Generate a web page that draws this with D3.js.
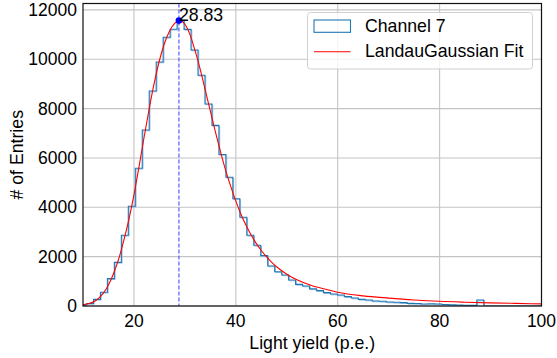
<!DOCTYPE html>
<html>
    <head>
        <meta charset="utf-8">
        <title>Channel 7 light yield</title>
        <script src="https://d3js.org/d3.v7.min.js"></script>
        <style>
            body { margin: 0; background: white; }
            text { font-family: "Liberation Sans", Arial, Helvetica, sans-serif; fill: black; }
        </style>
    </head>
    <body>
        <div id="main"></div>
        <script>
            // histogram: first bin left edge, bin width, counts per bin
            var binStart = 9.319
            var binWidth = 1.368
            var counts = [30, 100, 270, 555, 1108, 1770, 2865, 4040, 5580, 7133,
                8714, 9890, 10890, 11216, 11560, 11213, 10376, 9350, 8189, 7320,
                6140, 5217, 4345, 3596, 2866, 2460, 2040, 1622, 1391, 1257,
                1054, 875, 811, 695, 622, 541, 486, 446, 378, 324,
                270, 243, 203, 190, 162, 150, 135, 108, 100, 81,
                90, 80, 60, 45, 35, 27, 25, 243]

            // LandauGaussian fit
            var fitX = [10, 11, 12, 13, 14, 15, 16, 17, 18, 19, 20, 21, 22, 23, 24, 25, 26, 27, 28, 28.83,
                29.5, 30, 31, 32, 33, 34, 35, 36, 37, 38, 39, 40, 41, 42, 43, 44, 45, 46, 47, 48,
                50, 52, 55, 58, 60, 65, 70, 75, 80, 85, 90, 95, 100]
            var fitY = [55, 90, 160, 300, 520, 850, 1320, 1900, 2650, 3500, 4500, 5650, 6850, 8000, 9050, 9950, 10650, 11150, 11450, 11566,
                11520, 11420, 11000, 10350, 9600, 8750, 7900, 7050, 6250, 5500, 4850, 4250, 3720, 3270, 2880, 2540, 2250, 2000, 1780, 1590,
                1290, 1060, 820, 660, 560, 410, 320, 245, 190, 155, 128, 105, 85]

            var peakX = 28.83
            var peakY = 11566

            var xTicks = [20, 40, 60, 80, 100]
            var yTicks = [0, 2000, 4000, 6000, 8000, 10000, 12000]

            var legendLabels = ["Channel 7", "LandauGaussian Fit"]

            var W = 557, H = 358
            var margin = {top: 3.5, right: 15.5, bottom: 52, left: 83}
            var width = W - margin.left - margin.right
            var height = H - margin.top - margin.bottom

            var svg = d3.select("#main")
            .append("svg")
                .attr("width", W)
                .attr("height", H)
            .append("g")
                .attr("transform", "translate(" + margin.left + "," + margin.top + ")")

            var x = d3.scaleLinear().domain([10, 100]).range([0, width])
            var y = d3.scaleLinear().domain([0, 12260]).range([height, 0])

            svg.append("defs").append("clipPath").attr("id", "clip")
                .append("rect").attr("width", width).attr("height", height)

            // grid
            svg.append("g")
                .selectAll("line")
                .data(xTicks)
                .enter()
                .append("line")
                .attr("x1", d => x(d)).attr("x2", d => x(d))
                .attr("y1", 0).attr("y2", height)
                .attr("stroke", "#c4c4c4").attr("stroke-width", 1.1)
            svg.append("g")
                .selectAll("line")
                .data(yTicks)
                .enter()
                .append("line")
                .attr("x1", 0).attr("x2", width)
                .attr("y1", d => y(d)).attr("y2", d => y(d))
                .attr("stroke", "#c4c4c4").attr("stroke-width", 1.1)

            var plot = svg.append("g").attr("clip-path", "url(#clip)")

            // step histogram outline
            var steps = [[binStart, 0]]
            counts.forEach(function(c, i) {
                steps.push([binStart + i * binWidth, c])
                steps.push([binStart + (i + 1) * binWidth, c])
            })
            steps.push([binStart + counts.length * binWidth, 0])
            steps.push([100, 0])

            var line = d3.line().x(d => x(d[0])).y(d => y(d[1]))

            plot.append("path")
                .datum(steps)
                .attr("fill", "none")
                .attr("stroke", "#9cc3e2")
                .attr("stroke-width", 1)
                .attr("transform", "translate(0.8,0.8)")
                .attr("d", line)
            plot.append("path")
                .datum(steps)
                .attr("fill", "none")
                .attr("stroke", "#1f77b4")
                .attr("stroke-width", 1.1)
                .attr("d", line)

            // fit curve
            plot.append("path")
                .datum(fitX.map((d, i) => [d, fitY[i]]))
                .attr("fill", "none")
                .attr("stroke", "red")
                .attr("stroke-width", 1.1)
                .attr("d", d3.line().curve(d3.curveMonotoneX).x(d => x(d[0])).y(d => y(d[1])))

            // peak marker
            svg.append("line")
                .attr("x1", x(peakX)).attr("x2", x(peakX))
                .attr("y1", 0).attr("y2", height)
                .attr("stroke", "#4d4dff")
                .attr("stroke-width", 1.1)
                .attr("stroke-dasharray", "4,2")
            svg.append("circle")
                .attr("cx", x(peakX)).attr("cy", y(peakY))
                .attr("r", 3.3)
                .attr("fill", "blue")
            svg.append("text")
                .attr("x", x(peakX)).attr("y", y(peakY))
                .style("font-size", "17.7px")
                .text(peakX.toFixed(2))

            // frame
            svg.append("rect")
                .attr("width", width).attr("height", height)
                .attr("fill", "none")
                .attr("stroke", "#111")
                .attr("stroke-width", 1.2)

            // tick labels
            svg.append("g")
                .selectAll("text")
                .data(xTicks)
                .enter()
                .append("text")
                .attr("x", d => x(d))
                .attr("y", height + 21)
                .style("font-size", "17.5px")
                .style("text-anchor", "middle")
                .text(d => d)
            svg.append("g")
                .selectAll("text")
                .data(yTicks)
                .enter()
                .append("text")
                .attr("x", -6)
                .attr("y", d => y(d) + 6)
                .style("font-size", "17.5px")
                .style("text-anchor", "end")
                .text(d => d)

            // axis titles
            svg.append("text")
                .attr("x", width / 2)
                .attr("y", height + 43)
                .style("font-size", "17.7px")
                .style("text-anchor", "middle")
                .text("Light yield (p.e.)")
            svg.append("text")
                .attr("transform", "rotate(-90)")
                .attr("x", -height / 2)
                .attr("y", -60)
                .style("font-size", "17.7px")
                .style("text-anchor", "middle")
                .text("# of Entries")

            // legend
            var lg = svg.append("g").attr("transform", "translate(" + (307.5 - margin.left) + "," + (12.5 - margin.top) + ")")
            lg.append("rect")
                .attr("width", 225).attr("height", 56.5)
                .attr("rx", 3)
                .attr("fill", "white").attr("fill-opacity", 0.8)
                .attr("stroke", "#d0d0d0")
            lg.append("rect")
                .attr("x", 6.5).attr("y", 7.5)
                .attr("width", 36.5).attr("height", 12.3)
                .attr("fill", "none")
                .attr("stroke", "#1f77b4")
                .attr("stroke-width", 1.1)
            lg.append("line")
                .attr("x1", 6.5).attr("x2", 43)
                .attr("y1", 39.2).attr("y2", 39.2)
                .attr("stroke", "red")
                .attr("stroke-width", 1.1)
            lg.selectAll("text.lab")
                .data(legendLabels)
                .enter()
                .append("text")
                .attr("class", "lab")
                .attr("x", 57.5)
                .attr("y", (d, i) => 19.8 + i * 25)
                .style("font-size", "17.7px")
                .text(d => d)
        </script>
    </body>
</html>
